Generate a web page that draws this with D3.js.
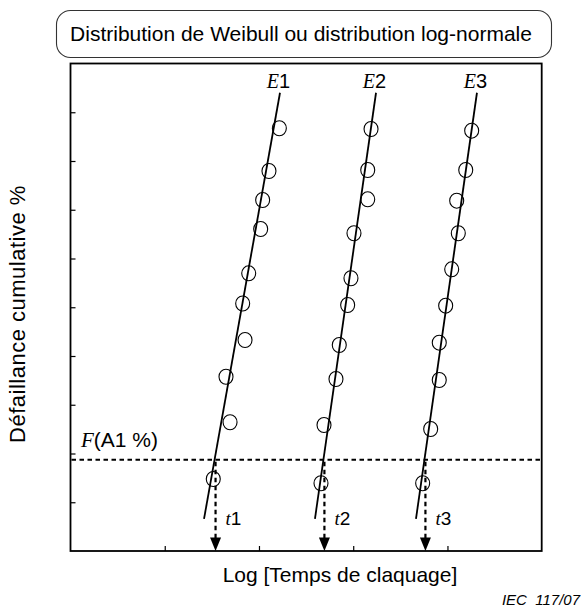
<!DOCTYPE html>
<html>
<head>
<meta charset="utf-8">
<script src="https://cdn.jsdelivr.net/npm/d3@7"></script>
<style>
  html, body { margin: 0; padding: 0; background: #fff; }
  svg { display: block; }
  text { font-family: "Liberation Sans", Arial, sans-serif; fill: #000; }
  .serif { font-family: "Liberation Serif", "Times New Roman", serif; font-style: italic; }
</style>
</head>
<body>
<svg id="chart" width="581" height="607"></svg>
<script>
// Axis ticks (unlabelled): log time on x, probability scale on y
const xTicks = [1, 2, 3, 4];
const yTicks = [1, 2, 3, 4, 5, 6, 7, 8, 9];

// Breakdown tests E1, E2, E3: log time of each failure and its plotting position
const seriesNames = ["1", "2", "3"];
const e1X = [2.216, 2.106, 2.039, 2.018, 1.891, 1.827, 1.852, 1.650, 1.693, 1.515];
const e1Y = [8.671, 7.795, 7.200, 6.605, 5.696, 5.077, 4.328, 3.575, 2.640, 1.477];
const e2X = [3.189, 3.154, 3.154, 3.008, 2.976, 2.941, 2.852, 2.817, 2.690, 2.658];
const e2Y = [8.656, 7.815, 7.214, 6.517, 5.594, 5.046, 4.226, 3.528, 2.585, 1.389];
const e3X = [4.257, 4.194, 4.098, 4.115, 4.045, 3.981, 3.913, 3.913, 3.822, 3.737];
const e3Y = [8.622, 7.815, 7.186, 6.517, 5.778, 5.032, 4.273, 3.508, 2.503, 1.389];

// Fitted straight lines: x at the top and bottom ends
const fitTopX = [2.223, 3.242, 4.313];
const fitBottomX = [1.417, 2.594, 3.666];
const fitTopY = 9.40;
const fitBottomY = 0.66;

// Failure level F(A1 %)
const levelF = 1.87;

const svg = d3.select("#chart");
const plot = { left: 70.5, right: 541.7, top: 63.5, bottom: 551 };

const x = d3.scaleLinear().domain([0, 5]).range([plot.left, plot.right]);
const y = d3.scaleLinear().domain([0, 10]).range([plot.bottom, plot.top]);

// Title box
svg.append("rect")
  .attr("x", 56.5).attr("y", 10.5).attr("width", 495).attr("height", 47)
  .attr("rx", 14).attr("ry", 14)
  .attr("fill", "none").attr("stroke", "#333").attr("stroke-width", 1.1);
svg.append("text")
  .attr("x", 301).attr("y", 41).attr("text-anchor", "middle")
  .attr("font-size", 21)
  .text("Distribution de Weibull ou distribution log-normale");

// Inner ticks
const yAxis = d3.axisLeft(y).tickValues(yTicks).tickSize(-5).tickFormat("");
const gy = svg.append("g").attr("transform", `translate(${plot.left},0)`).call(yAxis);
gy.select(".domain").remove();
gy.selectAll(".tick line").attr("stroke", "#000").attr("stroke-width", 1.2);

const xAxis = d3.axisBottom(x).tickValues(xTicks).tickSize(-5).tickFormat("");
const gx = svg.append("g").attr("transform", `translate(0,${plot.bottom})`).call(xAxis);
gx.select(".domain").remove();
gx.selectAll(".tick line").attr("stroke", "#000").attr("stroke-width", 1.2);

// Frame
svg.append("rect")
  .attr("x", plot.left).attr("y", plot.top)
  .attr("width", plot.right - plot.left).attr("height", plot.bottom - plot.top)
  .attr("fill", "none").attr("stroke", "#000").attr("stroke-width", 1.8);

// Horizontal level line
svg.append("line")
  .attr("x1", x(0) + 1).attr("x2", x(5) - 1)
  .attr("y1", y(levelF)).attr("y2", y(levelF))
  .attr("stroke", "#000").attr("stroke-width", 2)
  .attr("stroke-dasharray", "4.5,3.5");

const fLabel = svg.append("text")
  .attr("x", 81).attr("y", y(levelF) - 13)
  .attr("font-size", 21);
fLabel.append("tspan").attr("class", "serif").text("F");
fLabel.append("tspan").text("(A1 %)");

const seriesX = [e1X, e2X, e3X];
const seriesY = [e1Y, e2Y, e3Y];

seriesNames.forEach((name, i) => {
  const g = svg.append("g");

  // fitted line
  g.append("line")
    .attr("x1", x(fitTopX[i])).attr("y1", y(fitTopY))
    .attr("x2", x(fitBottomX[i])).attr("y2", y(fitBottomY))
    .attr("stroke", "#000").attr("stroke-width", 1.8);

  // data points
  g.selectAll("ellipse")
    .data(d3.zip(seriesX[i], seriesY[i]))
    .join("ellipse")
    .attr("cx", d => x(d[0])).attr("cy", d => y(d[1]))
    .attr("rx", 7).attr("ry", 7.5)
    .attr("fill", "none").attr("stroke", "#000").attr("stroke-width", 1.1);

  // label at the top of the line
  const lab = g.append("text")
    .attr("x", x(fitTopX[i]) - 1.5).attr("y", y(fitTopY) - 5)
    .attr("text-anchor", "middle").attr("font-size", 20);
  lab.append("tspan").attr("class", "serif").text("E");
  lab.append("tspan").text(name);

  // time at which the line reaches the level F
  const frac = (levelF - fitBottomY) / (fitTopY - fitBottomY);
  const tX = fitBottomX[i] + (fitTopX[i] - fitBottomX[i]) * frac;
  const px = x(tX) + 1;

  g.append("line")
    .attr("x1", px).attr("x2", px)
    .attr("y1", y(levelF) + 2).attr("y2", plot.bottom - 13)
    .attr("stroke", "#000").attr("stroke-width", 2.2)
    .attr("stroke-dasharray", "4.5,3.5");
  g.append("path")
    .attr("d", `M${px - 5.5},${plot.bottom - 13.5}L${px + 5.5},${plot.bottom - 13.5}L${px},${plot.bottom}Z`)
    .attr("fill", "#000");

  const tl = g.append("text")
    .attr("x", px + 10).attr("y", 525)
    .attr("font-size", 19);
  tl.append("tspan").attr("class", "serif").text("t");
  tl.append("tspan").text(name);
});

// Axis titles
svg.append("text")
  .attr("x", 340).attr("y", 582).attr("text-anchor", "middle")
  .attr("font-size", 21)
  .text("Log [Temps de claquage]");

svg.append("text")
  .attr("transform", "translate(25,314) rotate(-90)")
  .attr("text-anchor", "middle")
  .attr("font-size", 22)
  .attr("letter-spacing", 0.5)
  .text("Défaillance cumulative %");

svg.append("text")
  .attr("x", 580).attr("y", 605).attr("text-anchor", "end")
  .attr("font-size", 15).attr("font-style", "italic")
  .attr("xml:space", "preserve")
  .style("white-space", "pre")
  .text("IEC  117/07");
</script>
</body>
</html>
